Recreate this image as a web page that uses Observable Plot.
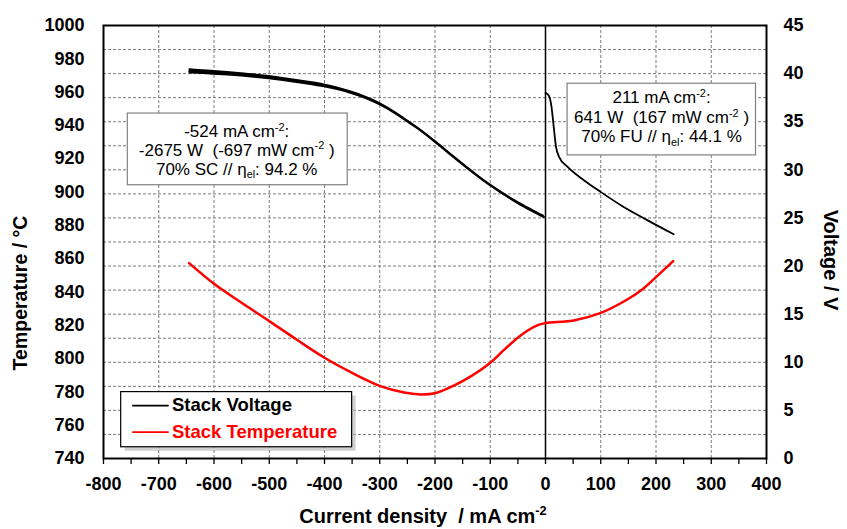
<!DOCTYPE html>
<html><head><meta charset="utf-8">
<script src="https://cdn.jsdelivr.net/npm/d3@7"></script>
<script src="https://cdn.jsdelivr.net/npm/@observablehq/plot@0.6"></script>
<style>
body{margin:0;background:#fff;}
#chart svg{display:block;}
</style></head><body><div id="chart"></div>
<script>
// ---------- data ----------
const tempCurrent = [-645,-600,-550,-500,-450,-400,-350,-300,-256,-226,-200,-166,-136,-101,-76,-45,-15,0,51,99,148,175,199,231];
const tempValues  = [857.3,844.9,833.5,822.5,811.3,800.5,791.4,783.6,779.6,778.5,779.2,783.8,789.2,797.2,804.9,813.9,819.9,821.3,822.9,827.3,835.5,841.5,848.6,858.5];

const vNegCurrent = [-645,-600,-550,-500,-450,-400,-350,-300,-238,-199,-148,-100,-51,-2];
const vNegCenter  = [40.25,40.1,39.9,39.6,39.2,38.75,38.0,36.85,34.6,32.9,30.5,28.4,26.6,25.1];
const vNegUpper   = [40.5,40.32,40.1,39.8,39.38,38.92,38.16,37.0,34.75,33.05,30.65,28.55,26.75,25.25];
const vNegLower   = [39.95,39.82,39.64,39.36,38.98,38.52,37.8,36.66,34.42,32.72,30.32,28.23,26.43,24.92];

const vPosCurrent = [0,3,7,11,15,19,25,40,70,100,137,180,232];
const vPosValues  = [38.0,37.9,37.6,36.5,34.4,32.4,31.3,30.3,28.9,27.7,26.3,24.9,23.3];

const xTickLabels = [-800,-700,-600,-500,-400,-300,-200,-100,0,100,200,300,400];
const xMinorTicks = [-750,-650,-550,-450,-350,-250,-150,-50,50,150,250,350];
const tempTicks   = [740,760,780,800,820,840,860,880,900,920,940,960,980,1000];
const voltTicks   = [0,5,10,15,20,25,30,35,40,45];
const voltGrid    = [2.5,5,7.5,10,12.5,15,17.5,20,22.5,25,27.5,30,32.5,35,37.5,40,42.5];

// temperature (left axis) mapped onto the voltage (right axis) scale
const T0 = 740, T1 = 1000, V1 = 45;
const toV = t => (t - T0) * V1 / (T1 - T0);
const fromV = v => T0 + v * (T1 - T0) / V1;

const tempData = tempCurrent.map((x, i) => ({x, y: toV(tempValues[i])}));
const negData = vNegCurrent.map((x, i) => ({x, y: vNegCenter[i], lo: vNegLower[i], hi: vNegUpper[i]}));
const posData = vPosCurrent.map((x, i) => ({x, y: vPosValues[i]}));

// annotation boxes (data units)
const boxes = [
  {x1:-756, x2:-358, y1:28.4, y2:35.85},
  {x1:40, x2:381, y1:31.5, y2:38.95}
];
const legendBox = [{x1:-768, x2:-350, y1:1.17, y2:6.9}];
const legendItems = [
  {x1:-748, x2:-682, y:5.5, tx:-676, label:"Stack Voltage", color:"#000000"},
  {x1:-748, x2:-682, y:2.75, tx:-676, label:"Stack Temperature", color:"#ff0000"}
];

const FONT = '"Liberation Sans", Arial, Helvetica, sans-serif';
const gridStyle = {stroke:"#7a7a7a", strokeOpacity:1, strokeWidth:1, strokeDasharray:"3,2"};
const xTicksAll = [...xTickLabels, ...xMinorTicks].sort((a,b)=>a-b);
const labelSet = new Set(xTickLabels);

const plot = Plot.plot({
  width: 847, height: 529,
  marginLeft: 103, marginRight: 81, marginTop: 25, marginBottom: 71,
  style: {fontFamily: FONT, fontSize: "18px", fontWeight: "bold", color: "#000", background: "#fff", overflow: "visible"},
  x: {domain: [-800, 400]},
  y: {domain: [0, 45]},
  marks: [
    Plot.gridX(xTickLabels.filter(d => d > -800 && d < 400 && d !== 0), gridStyle),
    Plot.gridY(voltGrid, gridStyle),
    Plot.ruleX([0], {stroke: "#000", strokeWidth: 1.5}),
    Plot.areaY(negData, {x: "x", y1: "lo", y2: "hi", fill: "#000", curve: "catmull-rom"}),
    Plot.line(negData, {x: "x", y: "y", stroke: "#000", strokeWidth: 1.4, curve: "catmull-rom"}),
    Plot.line(posData, {x: "x", y: "y", stroke: "#000", strokeWidth: 1.8, curve: "monotone-x"}),
    Plot.line(tempData, {x: "x", y: "y", stroke: "#ff0000", strokeWidth: 2.5, curve: "catmull-rom"}),
    Plot.rect(boxes, {x1: "x1", x2: "x2", y1: "y1", y2: "y2", fill: "#fff", stroke: "#808080", strokeWidth: 1.2}),
    Plot.rect(legendBox, {x1: "x1", x2: "x2", y1: "y1", y2: "y2", fill: "#b0b0b0", fillOpacity: 0.6, dx: 4, dy: 4}),
    Plot.rect(legendBox, {x1: "x1", x2: "x2", y1: "y1", y2: "y2", fill: "#fff", stroke: "#000", strokeWidth: 1.2}),
    Plot.link(legendItems, {x1: "x1", x2: "x2", y1: "y", y2: "y", stroke: "color", strokeWidth: 1.8}),
    Plot.text(legendItems, {x: "tx", y: "y", text: "label", fill: "color", textAnchor: "start", fontSize: 18.5, fontWeight: "bold"}),
    Plot.frame({stroke: "#000", strokeWidth: 2}),
    Plot.axisX(xTicksAll, {tickSize: 6, tickPadding: 13, stroke: "#000", strokeWidth: 1.3,
      tickFormat: d => labelSet.has(d) ? String(d) : "", label: null}),
    Plot.axisY(tempTicks.map(toV), {anchor: "left", tickSize: 0, tickPadding: 19,
      tickFormat: v => String(Math.round(fromV(v))), label: null}),
    Plot.axisY(voltTicks, {anchor: "right", tickSize: 0, tickPadding: 17,
      tickFormat: d => String(d), label: null})
  ]
});

document.getElementById("chart").appendChild(plot);

// ---------- texts with super/subscripts ----------
const sx = plot.scale("x"), sy = plot.scale("y");
const svg = d3.select(plot);

const annotations = [
  {x: -558, ys: [33.35, 31.4, 29.45], lines: [
    [["-524 mA cm"], ["-2", "sup"], [":"]],
    [["-2675 W  (-697 mW cm"], ["-2", "sup"], [" )"]],
    [["70% SC // η"], ["el", "sub"], [": 94.2 %"]]
  ]},
  {x: 211, ys: [36.85, 34.8, 32.8], lines: [
    [["211 mA cm"], ["-2", "sup"], [":"]],
    [["641 W  (167 mW cm"], ["-2", "sup"], [" )"]],
    [["70% FU // η"], ["el", "sub"], [": 44.1 %"]]
  ]}
];

function addRich(sel, parts, size) {
  let acc = 0;
  parts.forEach(([t, kind]) => {
    const ts = sel.append("tspan").text(t);
    const target = kind === "sup" ? -size * 0.38 : kind === "sub" ? size * 0.22 : 0;
    if (kind) ts.attr("font-size", size * 0.64);
    ts.attr("dy", target - acc);
    acc = target;
  });
}

const g = svg.append("g").attr("font-family", FONT).attr("fill", "#000");
annotations.forEach(a => {
  a.lines.forEach((parts, i) => {
    const t = g.append("text")
      .attr("x", sx.apply(a.x)).attr("y", sy.apply(a.ys[i]))
      .attr("text-anchor", "middle").attr("font-size", 17).attr("font-weight", "normal")
      .style("white-space", "pre");
    addRich(t, parts, 17);
  });
});

// axis titles
const xt = g.append("text").attr("x", 423).attr("y", 523).attr("text-anchor", "middle")
  .attr("font-size", 20).attr("font-weight", "bold").style("white-space", "pre");
addRich(xt, [["Current density  / mA cm"], ["-2", "sup"]], 20);

g.append("text").attr("transform", "translate(27,293) rotate(-90)").attr("text-anchor", "middle")
  .attr("font-size", 19.5).attr("font-weight", "bold").text("Temperature / °C");
g.append("text").attr("transform", "translate(824,260) rotate(90)").attr("text-anchor", "middle")
  .attr("font-size", 20).attr("font-weight", "bold").text("Voltage / V");
</script>
</body></html>
